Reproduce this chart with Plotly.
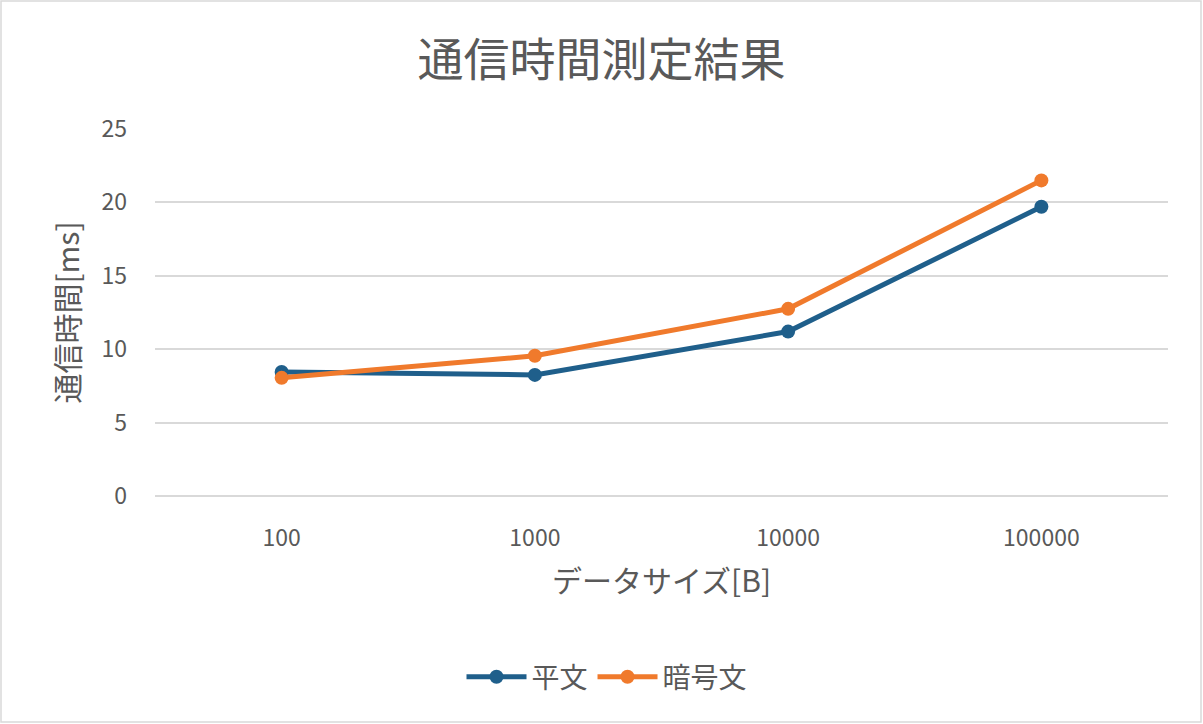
import plotly.graph_objects as go

categories = ["100", "1000", "10000", "100000"]
plain = [8.45, 8.25, 11.2, 19.7]
encrypted = [8.05, 9.55, 12.75, 21.5]
series_names = ["平文", "暗号文"]

W, H = 1203, 724
ml, mr, mt, mb = 155, 35, 129, 228
pw, ph = W - ml - mr, H - mt - mb

font = "Noto Sans CJK JP, Noto Sans, sans-serif"
txt = "#595959"

fig = go.Figure()
fig.add_trace(go.Scatter(x=categories, y=plain, name=series_names[0], mode="lines+markers",
                         line=dict(color="#1F5F8B", width=5), marker=dict(size=14, color="#1F5F8B")))
fig.add_trace(go.Scatter(x=categories, y=encrypted, name=series_names[1], mode="lines+markers",
                         line=dict(color="#F07A2C", width=5), marker=dict(size=14, color="#F07A2C")))

fig.update_layout(
    width=W, height=H,
    margin=dict(l=ml, r=mr, t=mt, b=mb),
    paper_bgcolor="white", plot_bgcolor="white",
    font=dict(family=font, color=txt, size=22),
    title=dict(text="通信時間測定結果", x=0.5, xanchor="center", y=1 - 60 / H, yanchor="middle",
               font=dict(size=46, color=txt, family=font)),
    xaxis=dict(type="category", range=[-0.5, 3.5], showgrid=False, zeroline=False, showline=False,
               ticks="", tickfont=dict(size=23, color=txt), ticklabelstandoff=26,
               title=dict(text="データサイズ[B]", font=dict(size=30, color=txt), standoff=18)),
    yaxis=dict(range=[0, 25], dtick=5, showgrid=True, gridcolor="#D9D9D9", gridwidth=1.5,
               zeroline=True, zerolinecolor="#D9D9D9", zerolinewidth=1.5, showline=False,
               ticks="", tickfont=dict(size=23, color=txt), ticklabelstandoff=27,
               title=dict(text="通信時間[ms]", font=dict(size=30, color=txt), standoff=12)),
    legend=dict(orientation="h", x=(607 - ml) / pw, xanchor="center", y=-(677 - mt - ph) / ph,
                yanchor="middle", font=dict(size=28, color=txt), itemwidth=60,
                bgcolor="rgba(0,0,0,0)"),
    showlegend=True,
)

# light gray outer border
fig.add_shape(type="rect", xref="paper", yref="paper",
              x0=(1 - ml) / pw, x1=(W - 2 - ml) / pw,
              y0=-(H - 2 - mt - ph) / ph, y1=1 + (mt - 1) / ph,
              line=dict(color="#D9D9D9", width=1.5), fillcolor="rgba(0,0,0,0)", layer="below")

fig.write_html("out.html")
